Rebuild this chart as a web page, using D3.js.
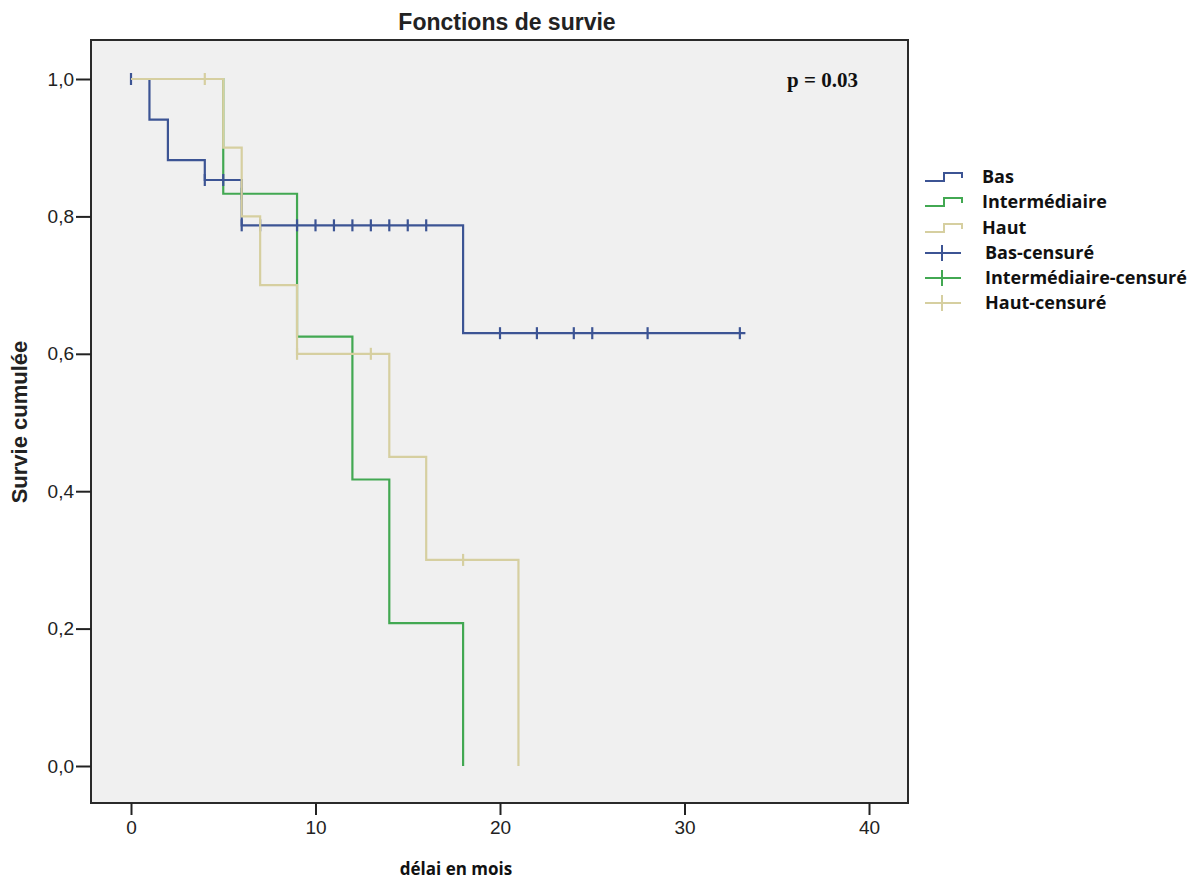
<!DOCTYPE html>
<html>
<head>
<meta charset="utf-8">
<script src="https://cdn.jsdelivr.net/npm/d3@7"></script>
<style>
  body { margin: 0; background: #fff; }
  svg { display: block; }
  .tick-label { font-family: "Liberation Sans", Arial, sans-serif; font-size: 19px; fill: #222; }
</style>
</head>
<body>
<div id="chart"></div>
<script>
// survival curves: [time in months, cumulative survival]
const basCurve = [[0, 1], [1, 0.941], [2, 0.882], [4, 0.853], [6, 0.787], [18, 0.630], [33.3, 0.630]];
const intermCurve = [[0, 1], [5, 0.833], [9, 0.625], [12, 0.417], [14, 0.208], [18, 0]];
const hautCurve = [[0, 1], [5, 0.9], [6, 0.8], [7, 0.7], [9, 0.6], [14, 0.45], [16, 0.3], [21, 0]];

// censored observations
const basCensored = [[0, 1], [4, 0.853], [5, 0.853], [6, 0.787], [7, 0.787], [9, 0.787], [10, 0.787], [11, 0.787],
  [12, 0.787], [13, 0.787], [14, 0.787], [15, 0.787], [16, 0.787], [20, 0.630], [22, 0.630], [24, 0.630],
  [25, 0.630], [28, 0.630], [33, 0.630]];
const intermCensored = [[6, 0.833]];
const hautCensored = [[4, 1], [9, 0.6], [13, 0.6], [18, 0.3]];

const xTicks = [0, 10, 20, 30, 40];
const yTicks = [0, 0.2, 0.4, 0.6, 0.8, 1.0];
const legendLabels = ['Bas', 'Intermédiaire', 'Haut', 'Bas-censuré', 'Intermédiaire-censuré', 'Haut-censuré'];

const colors = { bas: '#3c5494', interm: '#42a852', haut: '#d6cfa0' };

const width = 1199, height = 882;
const frame = { left: 91, top: 40, right: 908, bottom: 803 };

const svg = d3.select('#chart').append('svg')
    .attr('width', width)
    .attr('height', height);

// scales
const x = d3.scaleLinear().domain([0, 40]).range([131, 869]);
const y = d3.scaleLinear().domain([0, 1]).range([766, 79]);

// plot background + frame
svg.append('rect')
    .attr('x', frame.left)
    .attr('y', frame.top)
    .attr('width', frame.right - frame.left)
    .attr('height', frame.bottom - frame.top)
    .attr('fill', '#f0f0f0')
    .attr('stroke', '#2a2a2a')
    .attr('stroke-width', 2);

// axes
const xAxis = svg.append('g')
    .attr('transform', 'translate(0,' + frame.bottom + ')')
    .call(d3.axisBottom(x).tickValues(xTicks).tickSize(12).tickPadding(6).tickFormat(d3.format('d')));
xAxis.select('.domain').remove();
xAxis.selectAll('line').attr('stroke', '#222').attr('stroke-width', 2);
xAxis.selectAll('text').attr('class', 'tick-label').attr('font-size', null).attr('font-family', null);

const yAxis = svg.append('g')
    .attr('transform', 'translate(' + frame.left + ',0)')
    .call(d3.axisLeft(y).tickValues(yTicks).tickSize(15).tickPadding(2)
      .tickFormat(d => d3.format('.1f')(d).replace('.', ',')));
yAxis.select('.domain').remove();
yAxis.selectAll('line').attr('stroke', '#222').attr('stroke-width', 2);
yAxis.selectAll('text').attr('class', 'tick-label').attr('font-size', null).attr('font-family', null);

// step lines
const step = d3.line()
    .x(d => x(d[0]))
    .y(d => y(d[1]))
    .curve(d3.curveStepAfter);

// drawing order: green, blue, then beige on top
const series = [
  { curve: intermCurve, censored: intermCensored, color: colors.interm },
  { curve: basCurve, censored: basCensored, color: colors.bas },
  { curve: hautCurve, censored: hautCensored, color: colors.haut }
];

series.forEach(s => {
  svg.append('path')
      .datum(s.curve)
      .attr('d', step)
      .attr('fill', 'none')
      .attr('stroke', s.color)
      .attr('stroke-width', 2.2);

  svg.selectAll(null)
      .data(s.censored)
    .enter().append('line')
      .attr('x1', d => x(d[0]))
      .attr('x2', d => x(d[0]))
      .attr('y1', d => y(d[1]) - 6)
      .attr('y2', d => y(d[1]) + 6)
      .attr('stroke', s.color)
      .attr('stroke-width', 2.2);
});

// title & labels
svg.append('text')
    .attr('x', 507).attr('y', 30)
    .attr('text-anchor', 'middle')
    .style('font-family', '"Liberation Sans", Arial, sans-serif')
    .style('font-weight', 'bold')
    .style('font-size', '23px')
    .attr('fill', '#222')
    .text('Fonctions de survie');

svg.append('text')
    .attr('transform', 'translate(27,422) rotate(-90)')
    .attr('text-anchor', 'middle')
    .style('font-family', '"Liberation Sans", Arial, sans-serif')
    .style('font-weight', 'bold')
    .style('font-size', '22px')
    .attr('fill', '#222')
    .text('Survie cumulée');

svg.append('text')
    .attr('x', 456).attr('y', 875)
    .attr('text-anchor', 'middle')
    .style('font-family', '"Open Sans", sans-serif')
    .style('font-weight', 'bold')
    .style('font-size', '17px')
    .attr('fill', '#111')
    .text('délai en mois');

svg.append('text')
    .attr('x', 787).attr('y', 87)
    .style('font-family', '"Liberation Serif", "Times New Roman", serif')
    .style('font-weight', 'bold')
    .style('font-size', '21px')
    .attr('fill', '#111')
    .text('p = 0.03');

// legend
const legendColors = [colors.bas, colors.interm, colors.haut, colors.bas, colors.interm, colors.haut];
const legendY = [177, 202, 228, 253, 278, 303];
const legend = svg.append('g');
legendLabels.forEach((label, i) => {
  const cy = legendY[i];
  const g = legend.append('g').attr('transform', 'translate(925,' + cy + ')');
  if (i < 3) {
    g.append('path')
        .attr('d', 'M0,4H19V-4H37V1')
        .attr('fill', 'none')
        .attr('stroke', legendColors[i])
        .attr('stroke-width', 2);
  } else {
    g.append('path')
        .attr('d', 'M0,0H36M17,-8V8')
        .attr('fill', 'none')
        .attr('stroke', legendColors[i])
        .attr('stroke-width', 2);
  }
  g.append('text')
      .attr('x', i < 3 ? 57 : 60)
      .attr('y', 6)
      .style('font-family', '"Open Sans", sans-serif')
      .style('font-weight', 'bold')
      .style('font-size', '18px')
      .attr('fill', '#111')
      .text(label);
});
</script>
</body>
</html>
